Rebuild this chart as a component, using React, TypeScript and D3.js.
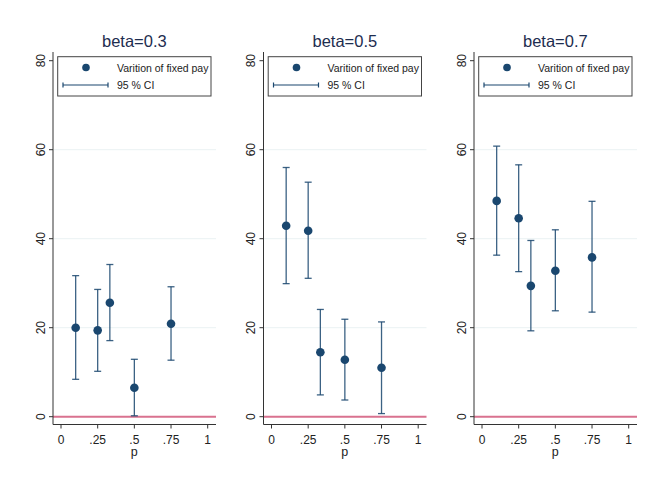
import React from "react";
import * as d3 from "d3";

const titles = ["beta=0.3", "beta=0.5", "beta=0.7"];
const pValues = [0.1, 0.25, 0.333, 0.5, 0.75];
const est03 = [20.0, 19.4, 25.6, 6.5, 20.9];
const lo03 = [8.4, 10.2, 17.1, 0.2, 12.7];
const hi03 = [31.7, 28.6, 34.2, 12.9, 29.2];
const est05 = [42.9, 41.8, 14.5, 12.8, 11.0];
const lo05 = [29.9, 31.1, 4.9, 3.75, 0.7];
const hi05 = [56.0, 52.7, 24.1, 21.9, 21.3];
const est07 = [48.5, 44.6, 29.4, 32.8, 35.8];
const lo07 = [36.3, 32.6, 19.3, 23.8, 23.5];
const hi07 = [60.8, 56.6, 39.6, 42.0, 48.4];
const xTicks = [0, 0.25, 0.5, 0.75, 1];
const xTickLabels = ["0", ".25", ".5", ".75", "1"];
const yTicks = [0, 20, 40, 60, 80];
const legendLabels = ["Varition of fixed pay", "95 % CI"];

const panels = [
  { est: est03, lo: lo03, hi: hi03 },
  { est: est05, lo: lo05, hi: hi05 },
  { est: est07, lo: lo07, hi: hi07 },
];

const NAVY = "#1a476f";
const FONT = "Arial, 'Liberation Sans', sans-serif";

function Panel({ idx }: { idx: number }) {
  const ox = idx * 210.5;
  const x = d3.scaleLinear().domain([0, 1]).range([61 + ox, 207.7 + ox]);
  const y = d3.scaleLinear().domain([0, 80]).range([416.7, 60.7]);
  const left = 53 + ox;
  const right = 216 + ox;
  const top = 52;
  const bottom = 424.5;
  const d = panels[idx];
  return (
    <g>
      <text x={x(0.5)} y={47} textAnchor="middle" fontSize={16.5} fill="#1e2d4f" fontFamily={FONT}>
        {titles[idx]}
      </text>
      {yTicks.filter((t) => t > 0 && t < 80).map((t) => (
        <line key={t} x1={left} x2={right} y1={y(t)} y2={y(t)} stroke="#eaf2f3" strokeWidth={1} />
      ))}
      <line x1={left} x2={right} y1={y(0)} y2={y(0)} stroke="#d9728f" strokeWidth={2} />
      <line x1={left} x2={left} y1={top} y2={bottom} stroke="#333" strokeWidth={1} />
      <line x1={left} x2={right} y1={bottom} y2={bottom} stroke="#333" strokeWidth={1} />
      {yTicks.map((t) => (
        <g key={t}>
          <line x1={left - 4} x2={left} y1={y(t)} y2={y(t)} stroke="#333" />
          <text
            transform={`translate(${left - 8.5},${y(t)}) rotate(-90)`}
            textAnchor="middle"
            fontSize={12}
            fill="#222"
            fontFamily={FONT}
          >
            {t}
          </text>
        </g>
      ))}
      {xTicks.map((t, i) => (
        <g key={t}>
          <line x1={x(t)} x2={x(t)} y1={bottom} y2={bottom + 4} stroke="#333" />
          <text x={x(t)} y={bottom + 19} textAnchor="middle" fontSize={12} fill="#222" fontFamily={FONT}>
            {xTickLabels[i]}
          </text>
        </g>
      ))}
      <text x={x(0.5)} y={bottom + 31.5} textAnchor="middle" fontSize={12.5} fill="#222" fontFamily={FONT}>
        p
      </text>
      {pValues.map((p, i) => (
        <g key={i} stroke={NAVY} strokeWidth={1.3} strokeOpacity={0.85}>
          <line x1={x(p)} x2={x(p)} y1={y(d.lo[i])} y2={y(d.hi[i])} />
          <line x1={x(p) - 3.5} x2={x(p) + 3.5} y1={y(d.lo[i])} y2={y(d.lo[i])} />
          <line x1={x(p) - 3.5} x2={x(p) + 3.5} y1={y(d.hi[i])} y2={y(d.hi[i])} />
        </g>
      ))}
      {pValues.map((p, i) => (
        <circle key={i} cx={x(p)} cy={y(d.est[i])} r={4.3} fill={NAVY} />
      ))}
      <rect x={57.7 + ox} y={56.7} width={153.3} height={39.3} fill="#fff" stroke="#444" strokeWidth={1} />
      <circle cx={86 + ox} cy={67.5} r={3.8} fill={NAVY} />
      <text x={117 + ox} y={71.5} fontSize={10.5} fill="#222" fontFamily={FONT}>
        {legendLabels[0]}
      </text>
      <g stroke={NAVY} strokeWidth={1.2}>
        <line x1={63 + ox} x2={108 + ox} y1={85} y2={85} />
        <line x1={63 + ox} x2={63 + ox} y1={82.5} y2={87.5} />
        <line x1={108 + ox} x2={108 + ox} y1={82.5} y2={87.5} />
      </g>
      <text x={117 + ox} y={89} fontSize={10.5} fill="#222" fontFamily={FONT}>
        {legendLabels[1]}
      </text>
    </g>
  );
}

export default function App() {
  return (
    <svg width={648} height={480} style={{ position: "absolute", left: 0, top: 0, background: "#fff" }}>
      <rect x={0} y={0} width={648} height={480} fill="#fff" />
      {[0, 1, 2].map((i) => (
        <Panel key={i} idx={i} />
      ))}
    </svg>
  );
}
